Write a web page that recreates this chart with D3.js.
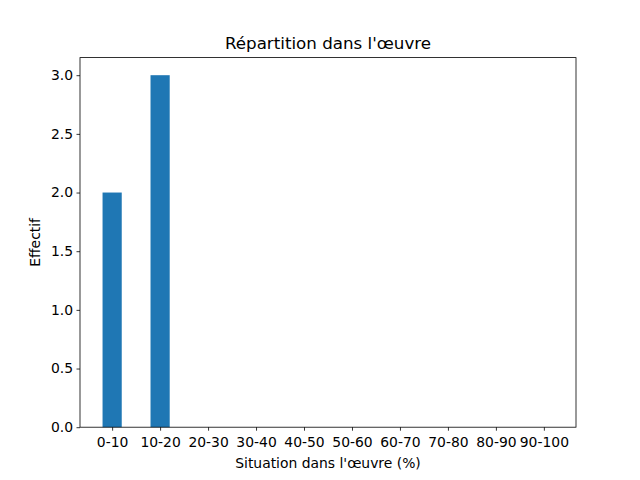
<!DOCTYPE html>
<html>
<head>
<meta charset="utf-8">
<script src="https://cdn.jsdelivr.net/npm/d3@7"></script>
<style>
  body { margin: 0; background: #fff; }
  svg text { font-family: "DejaVu Sans", sans-serif; }
</style>
</head>
<body>
<div id="chart"></div>
<script>
// data
const categories = ["0-10", "10-20", "20-30", "30-40", "40-50", "50-60", "60-70", "70-80", "80-90", "90-100"];
const counts = [2, 3, 0, 0, 0, 0, 0, 0, 0, 0];
const yTicks = [0, 0.5, 1.0, 1.5, 2.0, 2.5, 3.0];

const W = 640, H = 480;
const box = {x1: 80, x2: 576, y1: 57.6, y2: 427.2};
const barWidth = 0.4;

const svg = d3.select("#chart").append("svg")
  .attr("width", W).attr("height", H)
  .attr("viewBox", "0 0 " + W + " " + H);

// matplotlib style margins: 5% around the data extent
const xMin = -barWidth / 2, xMax = categories.length - 1 + barWidth / 2;
const xPad = (xMax - xMin) * 0.05;
const x = d3.scaleLinear().domain([xMin - xPad, xMax + xPad]).range([box.x1, box.x2]);
const yMax = d3.max(counts) * 1.05;
const y = d3.scaleLinear().domain([0, yMax]).range([box.y2, box.y1]);

// bars
svg.append("g").selectAll("rect")
  .data(counts)
  .join("rect")
  .attr("x", (d, i) => x(i - barWidth / 2))
  .attr("width", (d, i) => x(i + barWidth / 2) - x(i - barWidth / 2))
  .attr("y", d => y(d))
  .attr("height", d => y(0) - y(d))
  .attr("fill", "#1f77b4");

// axes
const xAxis = d3.axisBottom(x)
  .tickValues(d3.range(categories.length))
  .tickFormat(i => categories[i])
  .tickSize(3.5).tickPadding(3.5);
const yAxis = d3.axisLeft(y)
  .tickValues(yTicks)
  .tickFormat(d3.format(".1f"))
  .tickSize(3.5).tickPadding(3.5);

const gx = svg.append("g")
  .attr("transform", "translate(0," + box.y2 + ")")
  .call(xAxis);
const gy = svg.append("g")
  .attr("transform", "translate(" + box.x1 + ",0)")
  .call(yAxis);

[gx, gy].forEach(g => {
  g.select(".domain").remove();
  g.selectAll(".tick line").attr("stroke", "#000").attr("stroke-width", 0.8);
  g.selectAll(".tick text")
    .attr("fill", "#000")
    .style("font-size", "13.9px")
    .style("font-family", "DejaVu Sans");
});
gx.selectAll(".tick text").attr("dy", "0.9em");

// frame
svg.append("rect")
  .attr("x", box.x1).attr("y", box.y1)
  .attr("width", box.x2 - box.x1).attr("height", box.y2 - box.y1)
  .attr("fill", "none").attr("stroke", "#000").attr("stroke-width", 0.8);

// labels
svg.append("text")
  .attr("x", (box.x1 + box.x2) / 2).attr("y", 49)
  .attr("text-anchor", "middle")
  .style("font-size", "16.7px")
  .text("Répartition dans l'œuvre");

svg.append("text")
  .attr("x", (box.x1 + box.x2) / 2).attr("y", 468)
  .attr("text-anchor", "middle")
  .style("font-size", "13.9px")
  .text("Situation dans l'œuvre (%)");

svg.append("text")
  .attr("transform", "translate(40," + ((box.y1 + box.y2) / 2) + ") rotate(-90)")
  .attr("text-anchor", "middle")
  .style("font-size", "13.9px")
  .text("Effectif");
</script>
</body>
</html>
